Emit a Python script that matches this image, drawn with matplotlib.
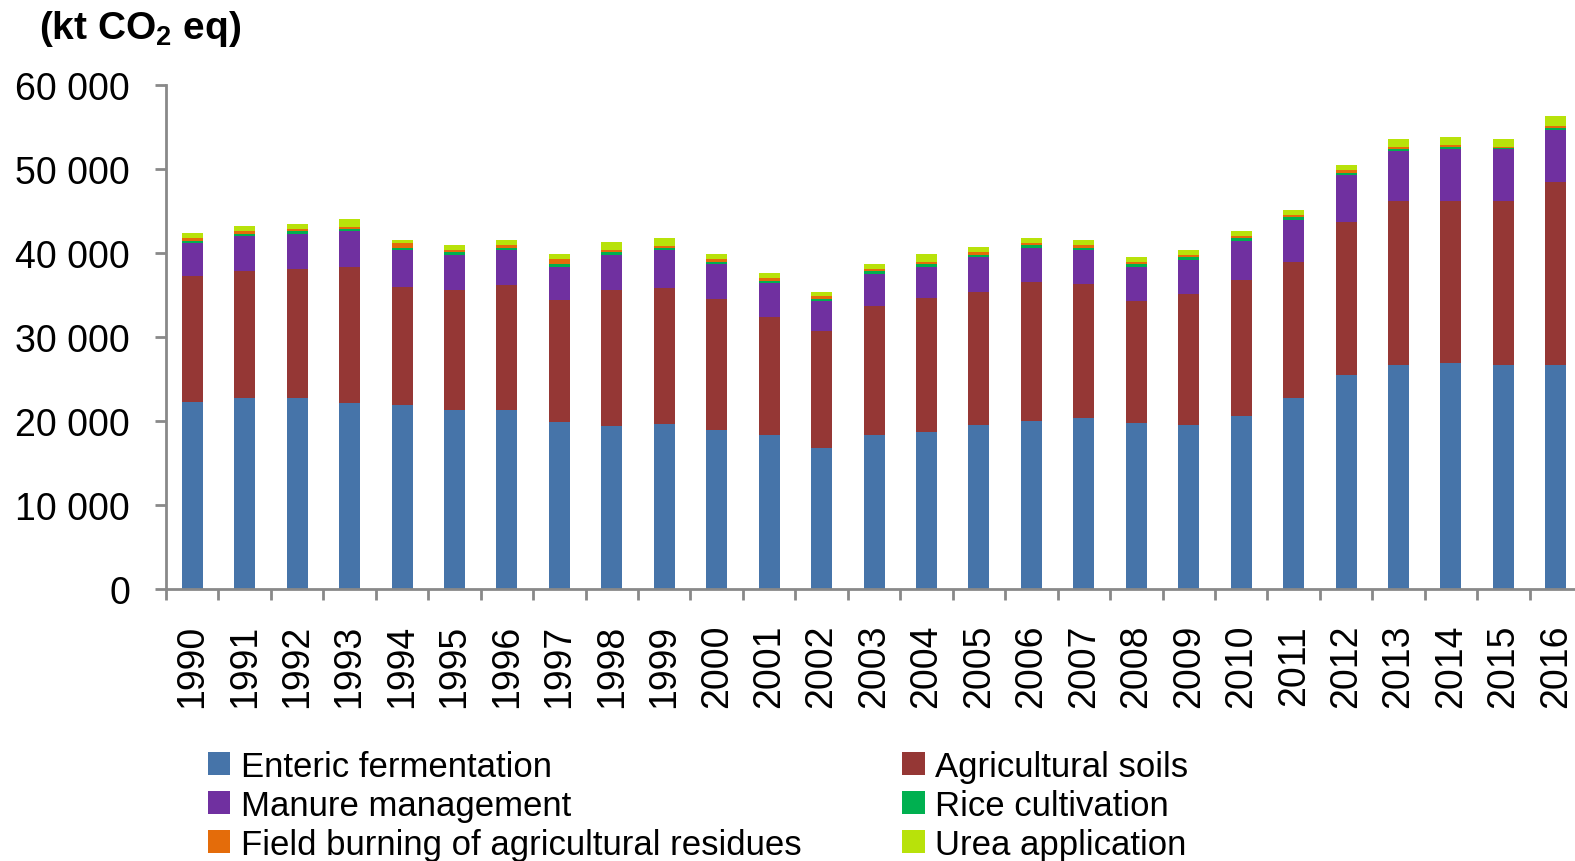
import numpy as np
import matplotlib.pyplot as plt
from matplotlib.ticker import FuncFormatter, MultipleLocator

plt.rcParams["font.family"] = ["Liberation Sans", "DejaVu Sans"]
plt.rcParams["mathtext.fontset"] = "custom"
plt.rcParams["mathtext.rm"] = "Liberation Sans"
plt.rcParams["mathtext.bf"] = "Liberation Sans:bold"

years = list(range(1990, 2017))

enteric = [22300, 22740, 22740, 22140, 21900, 21310, 21310, 19880, 19400, 19640,
           18970, 18380, 16790, 18380, 18740, 19570, 20040, 20390, 19800, 19570,
           20630, 22740, 25480, 26670, 26900, 26670, 26670]
soils = [14950, 15150, 15390, 16230, 14090, 14290, 14920, 14520, 16190, 16190,
         15500, 13970, 13900, 15310, 15900, 15780, 16490, 15900, 14440, 15540,
         16130, 16190, 18210, 19520, 19290, 19520, 21790]
manure = [3930, 4130, 4130, 4250, 4370, 4200, 4130, 3930, 4200, 4520,
          4260, 4140, 3550, 3870, 3750, 4220, 4100, 4100, 4140, 4100,
          4700, 5000, 5600, 5950, 6190, 6190, 6190]
rice = [270, 270, 360, 270, 240, 290, 240, 360, 290, 240,
        240, 240, 240, 350, 350, 240, 350, 240, 350, 350,
        350, 360, 240, 240, 240, 100, 240]
burning = [320, 320, 240, 200, 600, 270, 360, 600, 270, 240,
           350, 350, 350, 240, 240, 350, 240, 350, 240, 240,
           240, 240, 360, 240, 240, 150, 240]
urea = [600, 600, 600, 950, 360, 600, 600, 600, 950, 950,
        590, 590, 590, 590, 950, 590, 590, 590, 590, 590,
        590, 600, 600, 950, 950, 950, 1190]

series = [
    ("Enteric fermentation", enteric, "#4674A9"),
    ("Agricultural soils", soils, "#953735"),
    ("Manure management", manure, "#7030A0"),
    ("Rice cultivation", rice, "#00B050"),
    ("Field burning of agricultural residues", burning, "#E46C0A"),
    ("Urea application", urea, "#B8E20A"),
]

fig = plt.figure(figsize=(15.75, 8.62), dpi=100)
ax = fig.add_axes([0.1054, 0.3155, 0.8991, 0.5847])

x = np.arange(len(years))
bottom = np.zeros(len(years))
bars = {}
for name, vals, color in series:
    bars[name] = ax.bar(x, vals, 0.4, bottom=bottom, color=color, label=name)
    bottom += np.array(vals)

ax.set_xlim(-0.5, len(years) - 0.5)
ax.set_ylim(0, 60000)

axis_grey = "#898989"
for side in ("top", "right"):
    ax.spines[side].set_visible(False)
for side in ("left", "bottom"):
    ax.spines[side].set_color(axis_grey)
    ax.spines[side].set_linewidth(2)

ax.yaxis.set_major_locator(MultipleLocator(10000))
ax.yaxis.set_major_formatter(FuncFormatter(lambda v, p: f"{v:,.0f}".replace(",", " ")))
ax.tick_params(axis="y", length=8, width=2, color=axis_grey, pad=18, labelsize=27)

ax.set_xticks(x)
ax.set_xticklabels([str(y) for y in years], rotation=90)
ax.set_xticks(np.arange(-0.5, len(years), 1), minor=True)
ax.tick_params(axis="x", which="major", length=0, pad=25, labelsize=27)
ax.tick_params(axis="x", which="minor", length=8, width=2, color=axis_grey)

fig.text(0.025, 0.955, r"(kt CO$_\mathbf{2}$ eq)", fontsize=28, fontweight="bold",
         va="baseline", ha="left")

order = ["Enteric fermentation", "Manure management",
         "Field burning of agricultural residues",
         "Agricultural soils", "Rice cultivation", "Urea application"]
fig.legend([bars[n] for n in order], order, loc="upper left",
           bbox_to_anchor=(0.132, 0.129), ncol=2, frameon=False, fontsize=25,
           handlelength=0.65, handleheight=0.65, handletextpad=0.3,
           columnspacing=2.9, labelspacing=0.17, borderpad=0, borderaxespad=0)

fig.savefig("out.png", dpi=100)
